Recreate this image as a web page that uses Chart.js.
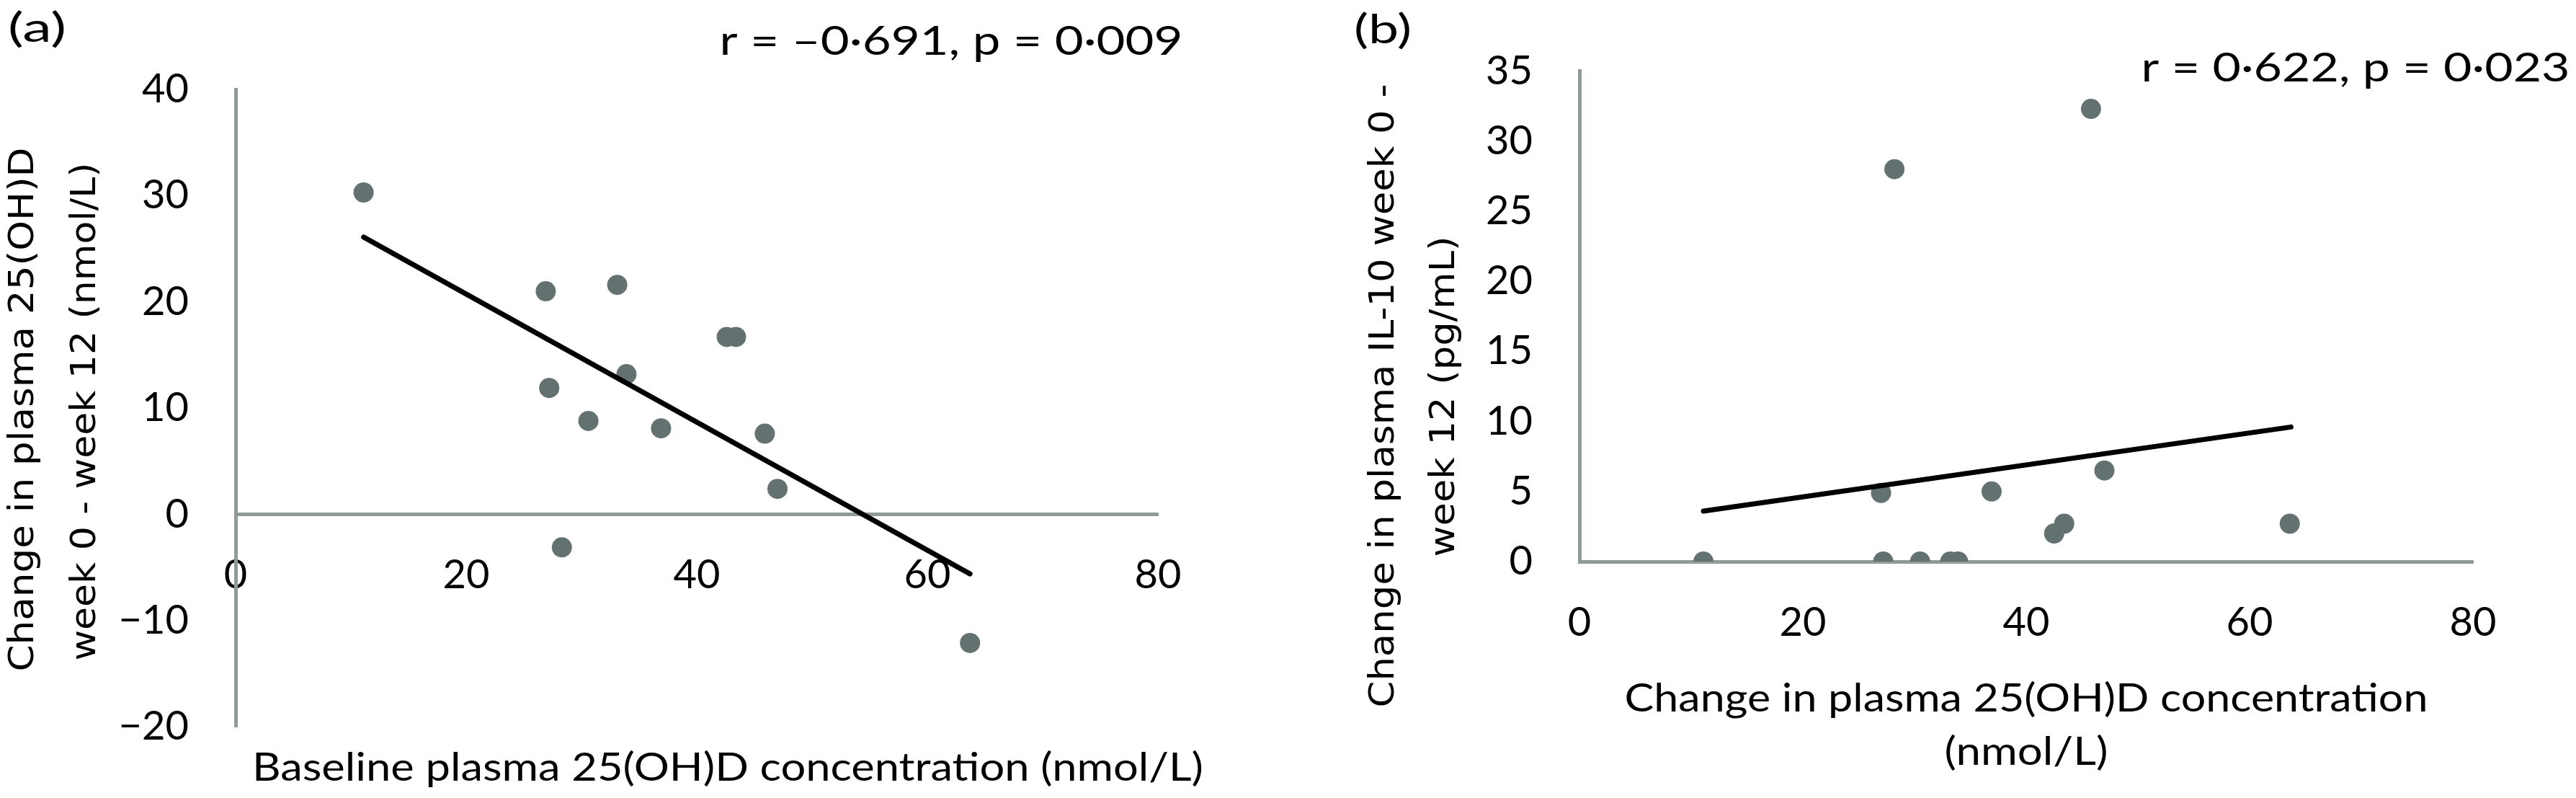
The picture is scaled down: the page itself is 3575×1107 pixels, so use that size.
<!DOCTYPE html>
<html>
<head>
<meta charset="utf-8">
<script src="https://cdn.jsdelivr.net/npm/chart.js@4.4.1/dist/chart.umd.min.js"></script>
<style>
  html, body { margin: 0; padding: 0; background: #fff; }
  #wrap { position: relative; width: 3575px; height: 1107px; }
  canvas { position: absolute; top: 0; }
  #chartA { left: 0; }
  #chartB { left: 1787px; }
</style>
</head>
<body>
<div id="wrap">
  <canvas id="chartA" width="1787" height="1107"></canvas>
  <canvas id="chartB" width="1788" height="1107"></canvas>
</div>
<script>
// (a) baseline 25(OH)D vs change in 25(OH)D
const baselineA = [11.1, 26.9, 27.2, 28.3, 30.6, 33.1, 33.9, 36.9, 42.6, 43.4, 45.9, 47.0, 63.7];
const change25A = [30.3, 21.0, 11.9, -3.1, 8.8, 21.6, 13.2, 8.1, 16.7, 16.7, 7.6, 2.4, -12.1];
const trendAx = [11.1, 63.7];
const trendAy = [26.1, -5.6];

// (b) change in 25(OH)D vs change in IL-10
const change25B = [11.1, 27.0, 27.2, 28.2, 30.5, 33.2, 33.9, 36.9, 42.5, 43.4, 45.8, 47.0, 63.6];
const il10B = [0, 4.9, 0, 28.0, 0, 0, 0, 5.0, 2.0, 2.7, 32.3, 6.5, 2.7];
const trendBx = [11.1, 63.7];
const trendBy = [3.6, 9.6];

// axis ranges / ticks
const xTicks = [0, 20, 40, 60, 80];
const yTicksA = [-20, -10, 0, 10, 20, 30, 40];
const yTicksB = [0, 5, 10, 15, 20, 25, 30, 35];

const pts = (xs, ys) => xs.map((x, i) => ({ x: x, y: ys[i] }));

const AXIS = "#8f9b99";
const DOT = "#637270";
const LABEL_FONT = "Lato, 'Liberation Sans', sans-serif";
const TITLE_FONT = "'DejaVu Sans', Verdana, sans-serif";

// draws free text (panel letters, r/p values, axis titles), stretched to a target width
function textPlugin(items) {
  return {
    id: "panelText",
    afterDraw(chart) {
      const ctx = chart.ctx;
      items.forEach((it) => {
        ctx.save();
        ctx.font = it.font;
        ctx.fillStyle = "#000";
        ctx.textAlign = it.align || "center";
        ctx.textBaseline = "middle";
        ctx.translate(it.x, it.y);
        if (it.rot) ctx.rotate(it.rot);
        if (it.w) {
          const m = ctx.measureText(it.text).width;
          ctx.scale(it.w / m, 1);
        }
        ctx.fillText(it.text, 0, 0);
        ctx.restore();
      });
    },
  };
}

function makeScales(yTicks, yWidth) {
  return {
    x: {
      type: "linear",
      position: { y: 0 },
      min: xTicks[0],
      max: xTicks[xTicks.length - 1],
      afterBuildTicks: (s) => { s.ticks = xTicks.map((v) => ({ value: v })); },
      grid: { display: false, drawTicks: false },
      border: { display: true, color: AXIS, width: 5 },
      ticks: { color: "#000", padding: 51, font: { family: LABEL_FONT, size: 56 } },
    },
    y: {
      type: "linear",
      position: "left",
      min: yTicks[0],
      max: yTicks[yTicks.length - 1],
      afterBuildTicks: (s) => { s.ticks = yTicks.map((v) => ({ value: v })); },
      afterFit: (s) => { s.width = yWidth; },
      grid: { display: false, drawTicks: false },
      border: { display: true, color: AXIS, width: 5 },
      ticks: {
        color: "#000",
        padding: 65,
        font: { family: LABEL_FONT, size: 56 },
        callback: (v) => (v < 0 ? "\u2212" + Math.abs(v) : String(v)),
      },
    },
  };
}

function makeDatasets(xs, ys, tx, ty) {
  return [
    {
      label: "trend",
      data: pts(tx, ty),
      showLine: true,
      borderColor: "#000",
      borderWidth: 7,
      borderCapStyle: "round",
      pointRadius: 0,
      order: 0,
    },
    {
      label: "data",
      data: pts(xs, ys),
      pointRadius: 14,
      pointBackgroundColor: DOT,
      pointBorderWidth: 0,
      order: 1,
    },
  ];
}

const baseOptions = {
  responsive: false,
  animation: false,
  devicePixelRatio: 1,
  events: [],
  plugins: { legend: { display: false }, tooltip: { enabled: false } },
};

new Chart(document.getElementById("chartA"), {
  type: "scatter",
  data: { datasets: makeDatasets(baselineA, change25A, trendAx, trendAy) },
  options: Object.assign({}, baseOptions, {
    layout: { padding: { left: 0, top: 124, right: 180, bottom: 96 } },
    scales: makeScales(yTicksA, 327),
  }),
  plugins: [textPlugin([
    { text: "(a)", x: 11, y: 40, align: "left", font: "56px " + LABEL_FONT, w: 81 },
    { text: "r = \u20130\u00b7691, p = 0\u00b7009", x: 1320, y: 58, font: "56px " + LABEL_FONT, w: 643 },
    { text: "Baseline plasma 25(OH)D concentration (nmol/L)", x: 1010, y: 1066, font: "54px " + LABEL_FONT, w: 1320 },
    { text: "Change in plasma 25(OH)D", x: 34, y: 568, rot: -Math.PI / 2, font: "48px " + TITLE_FONT, w: 727 },
    { text: "week 0 - week 12 (nmol/L)", x: 120, y: 571, rot: -Math.PI / 2, font: "48px " + TITLE_FONT, w: 691 },
  ])],
});

new Chart(document.getElementById("chartB"), {
  type: "scatter",
  data: { datasets: makeDatasets(change25B, il10B, trendBx, trendBy) },
  options: Object.assign({}, baseOptions, {
    layout: { padding: { left: 0, top: 95, right: 143, bottom: 328 } },
    scales: makeScales(yTicksB, 405),
  }),
  plugins: [textPlugin([
    { text: "(b)", x: 92, y: 42, align: "left", font: "56px " + LABEL_FONT, w: 80 },
    { text: "r = 0\u00b7622, p = 0\u00b7023", x: 1482, y: 95, font: "56px " + LABEL_FONT, w: 595 },
    { text: "Change in plasma 25(OH)D concentration", x: 1025, y: 970, font: "54px " + LABEL_FONT, w: 1115 },
    { text: "(nmol/L)", x: 1025, y: 1044, font: "54px " + LABEL_FONT, w: 227 },
    { text: "Change in plasma IL-10 week 0 -", x: 135, y: 549, rot: -Math.PI / 2, font: "48px " + TITLE_FONT, w: 865 },
    { text: "week 12 (pg/mL)", x: 219, y: 550, rot: -Math.PI / 2, font: "48px " + TITLE_FONT, w: 445 },
  ])],
});
</script>
</body>
</html>
